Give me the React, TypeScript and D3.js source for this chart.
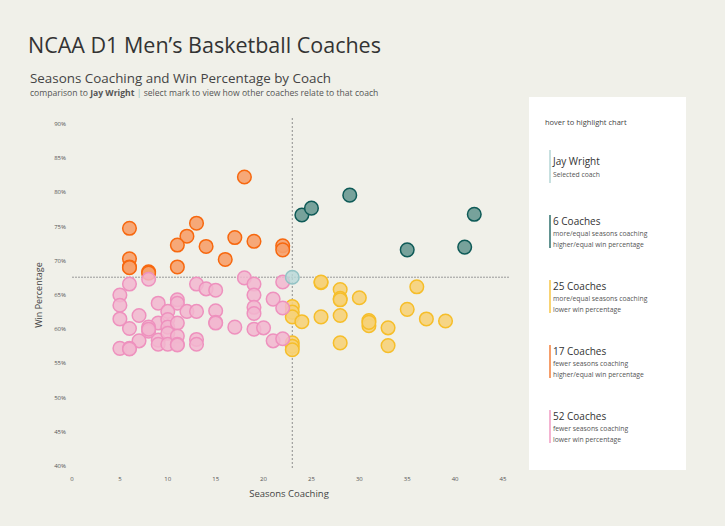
import React from "react";
import * as d3 from "d3";

const W = 725, H = 526;

// [seasons, win%]
const green: [number, number][] = [
  [29, 79.6], [24, 76.7], [25, 77.7], [42, 76.8], [35, 71.6], [41, 72.0],
];
const orange: [number, number][] = [
  [18, 82.25], [6, 74.75], [13, 75.5], [12, 73.6], [11, 72.3], [14, 72.1], [17, 73.4],
  [19, 72.85], [22, 72.2], [22, 71.6], [6, 70.3], [6, 69.1], [6, 69.0], [16, 70.2],
  [11, 69.1], [8, 68.4], [8, 68.2],
];
const yellow: [number, number][] = [
  [26, 66.8], [26, 66.9], [28, 65.8], [28, 64.5], [28, 64.3], [30, 64.6], [36, 66.2],
  [23, 63.3], [23, 62.5], [23, 61.8], [24, 61.1], [26, 61.8], [28, 62.0], [31, 61.25],
  [31, 60.5], [31, 61.0], [33, 60.2], [35, 62.9], [37, 61.5], [39, 61.2], [23, 58.0],
  [23, 57.5], [23, 57.0], [28, 58.0], [33, 57.6],
];
const pink: [number, number][] = [
  [6, 66.6], [8, 67.3], [5, 65.0], [5, 63.5], [5, 61.5], [6, 60.1], [7, 62.0], [9, 63.8],
  [11, 64.3], [11, 63.8], [10, 62.6], [12, 62.6], [13, 62.6], [13, 66.6], [9, 60.9],
  [10, 61.4], [10, 60.3], [11, 60.9], [8, 60.3], [8, 59.7], [8, 60.0], [7, 58.3], [9, 58.4],
  [9, 57.8], [10, 59.4], [10, 57.8], [11, 59.0], [11, 57.8], [11, 57.7], [13, 58.5], [13, 57.8],
  [5, 57.2], [6, 57.2], [6, 57.1], [18, 67.5], [19, 66.6], [22, 66.9], [14, 65.9], [15, 65.7],
  [19, 65.0], [21, 64.4], [15, 62.7], [19, 63.2], [19, 62.3], [22, 63.1], [15, 61.0],
  [15, 60.9], [17, 60.3], [19, 60.0], [20, 60.2], [21, 58.3], [22, 58.6],
];
const jay: [number, number] = [23, 67.6];

const xTicks = [0, 5, 10, 15, 20, 25, 30, 35, 40, 45];
const yTicks = [40, 45, 50, 55, 60, 65, 70, 75, 80, 85, 90];

const legendItems = [
  { title: "Jay Wright", lines: ["Selected coach"], color: "#A9CFD0" },
  { title: "6 Coaches", lines: ["more/equal seasons coaching", "higher/equal win percentage"], color: "#0E5A57" },
  { title: "25 Coaches", lines: ["more/equal seasons coaching", "lower win percentage"], color: "#F6BE2A" },
  { title: "17 Coaches", lines: ["fewer seasons coaching", "higher/equal win percentage"], color: "#F26B1D" },
  { title: "52 Coaches", lines: ["fewer seasons coaching", "lower win percentage"], color: "#EE8DBA" },
];
const legendY = [150, 215, 280, 345, 410];

const FONT = "'Open Sans', 'Noto Sans', sans-serif";

export default function App() {
  const x = d3.scaleLinear().domain([0, 45]).range([72, 503]);
  const y = d3.scaleLinear().domain([40, 90]).range([466, 124]);
  const r = 6.8;

  const groups = [
    { data: yellow, fill: "#F6D27A", stroke: "#F6BE2A", op: 0.9 },
    { data: green, fill: "#77A29B", stroke: "#0E5A57", op: 1 },
    { data: orange, fill: "#F6A06C", stroke: "#F7680F", op: 0.9 },
    { data: pink, fill: "#F2B6CF", stroke: "#EE91BE", op: 0.85 },
  ];

  return (
    <svg width={W} height={H} style={{ position: "absolute", left: 0, top: 0, fontFamily: FONT }}>
      <rect width={W} height={H} fill="#F0F0E9" />
      <text x={28} y={53} fontSize={21.5} fill="#333">NCAA D1 Men’s Basketball Coaches</text>
      <text x={30} y={83} fontSize={13.4} fill="#444">Seasons Coaching and Win Percentage by Coach</text>
      <text x={30} y={96} fontSize={8.6} fill="#555">
        comparison to <tspan fontWeight="bold">Jay Wright</tspan> <tspan fill="#8BB">|</tspan> select mark to view how other coaches relate to that coach
      </text>

      {yTicks.map((t) => (
        <text key={"y" + t} x={66} y={y(t) + 2} fontSize={6} textAnchor="end" fill="#555">{t}%</text>
      ))}
      {xTicks.map((t) => (
        <text key={"x" + t} x={x(t)} y={481} fontSize={6} textAnchor="middle" fill="#555">{t}</text>
      ))}
      <text transform={`translate(42,295) rotate(-90)`} fontSize={9} textAnchor="middle" fill="#444">Win Percentage</text>
      <text x={289} y={497} fontSize={9.5} textAnchor="middle" fill="#444">Seasons Coaching</text>

      <line x1={x(jay[0])} x2={x(jay[0])} y1={118} y2={470} stroke="#777" strokeDasharray="2,2" strokeWidth={0.8} />
      <line x1={72} x2={510} y1={y(jay[1])} y2={y(jay[1])} stroke="#999" strokeDasharray="2,1" strokeWidth={1} />

      {groups.map((g, gi) => (
        <g key={gi}>
          {g.data.map((d, i) => (
            <circle key={i} cx={x(d[0])} cy={y(d[1])} r={r} fill={g.fill} fillOpacity={g.op} stroke={g.stroke} strokeWidth={1.5} />
          ))}
        </g>
      ))}
      <circle cx={x(jay[0])} cy={y(jay[1])} r={r} fill="#B8D8D8" fillOpacity={0.8} stroke="#93C3C5" strokeWidth={1.5} />

      <rect x={529} y={97} width={157} height={373} fill="#fff" />
      <text x={545} y={125} fontSize={7.5} fill="#444">hover to highlight chart</text>
      {legendItems.map((it, i) => {
        const y0 = legendY[i];
        const first = i === 0;
        return (
          <g key={i}>
            <line x1={550} x2={550} y1={y0} y2={y0 + 33} stroke={it.color} strokeWidth={1.3} />
            <text x={553} y={y0 + (first ? 15 : 10)} fontSize={10} fill="#333">{it.title}</text>
            {it.lines.map((l, j) => (
              <text key={j} x={553} y={y0 + (first ? 27 : 21) + j * 11} fontSize={6.8} fill="#555">{l}</text>
            ))}
          </g>
        );
      })}
    </svg>
  );
}
